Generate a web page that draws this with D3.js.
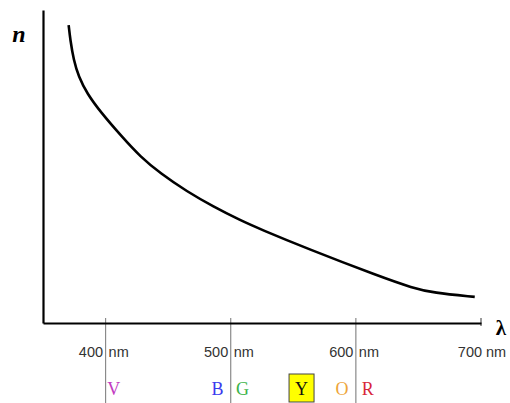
<!DOCTYPE html>
<html>
<head>
<meta charset="utf-8">
<script src="https://cdn.jsdelivr.net/npm/d3@7"></script>
<style>
  body { margin: 0; background: #fff; }
</style>
</head>
<body>
<div id="wrapper"></div>
<script>
// dispersion curve: wavelength (nm) vs refractive index (arbitrary scale)
const wavelengths = [370.5, 371.8, 374.5, 378.5, 385.2, 395.8, 413.1, 427.7, 443.7, 465, 486.2, 507.5, 523.5, 560.7, 619.2, 645.6, 661.5, 695]
const indices = [1.5571, 1.5543, 1.5504, 1.5472, 1.5440, 1.5405, 1.5357, 1.5319, 1.5287, 1.5252, 1.5223, 1.5197, 1.5180, 1.5143, 1.5089, 1.5067, 1.5058, 1.5050]

const tickValues = [400, 500, 600, 700]
const colourLetters = ['V', 'B', 'G', 'Y', 'O', 'R']
const colourPositions = [406.5, 489.5, 509.5, 556.6, 588.9, 609.6]
const colourFills = ['#c23bc2', '#3a3aee', '#3cb34a', '#111111', '#eea53a', '#d8263a']

const dataset = wavelengths.map((w, i) => ({ w, n: indices[i] }))

const dimensions = {
  width: 510,
  height: 403,
  margin: { top: 10, right: 29, bottom: 80, left: 43 },
}
dimensions.boundedWidth = dimensions.width - dimensions.margin.left - dimensions.margin.right
dimensions.boundedHeight = dimensions.height - dimensions.margin.top - dimensions.margin.bottom

const svg = d3.select('#wrapper')
  .append('svg')
  .attr('width', dimensions.width)
  .attr('height', dimensions.height)

const bounds = svg.append('g')
  .attr('transform', `translate(${dimensions.margin.left},${dimensions.margin.top})`)

const xScale = d3.scaleLinear()
  .domain([350, 700])
  .range([0, 438])

const yScale = d3.scaleLinear()
  .domain([1.50, 1.56])
  .range([313, 0])

const h = 313

// gray wavelength guide lines (400-600)
bounds.selectAll('.guide')
  .data(tickValues.slice(0, 3))
  .enter().append('line')
  .attr('x1', d => xScale(d))
  .attr('x2', d => xScale(d))
  .attr('y1', h - 5)
  .attr('y2', dimensions.height)
  .attr('stroke', '#8a8a8a')
  .attr('stroke-width', 1.2)

// 700 tick
bounds.append('line')
  .attr('x1', xScale(700))
  .attr('x2', xScale(700))
  .attr('y1', h - 5)
  .attr('y2', h + 3)
  .attr('stroke', '#555')
  .attr('stroke-width', 1.2)

// axes as plain domain paths
const xAxis = bounds.append('g')
  .attr('transform', `translate(0,${h})`)
  .call(d3.axisBottom(xScale).tickValues([]).tickSizeOuter(0))
xAxis.select('.domain').attr('stroke', '#000').attr('stroke-width', 2.2)

const yAxis = bounds.append('g')
  .call(d3.axisLeft(yScale).tickValues([]).tickSizeOuter(0))
yAxis.select('.domain').attr('stroke', '#000').attr('stroke-width', 2.2)

// tick labels
const labels = bounds.append('g')
  .attr('font-family', 'Liberation Sans, Arial, sans-serif')
  .attr('font-size', 14.5)
  .attr('fill', '#333')

tickValues.slice(0, 3).forEach(v => {
  labels.append('text')
    .attr('x', xScale(v) - 2.5)
    .attr('y', 347)
    .attr('text-anchor', 'end')
    .text(v)
  labels.append('text')
    .attr('x', xScale(v) + 3)
    .attr('y', 347)
    .text('nm')
})
labels.append('text')
  .attr('x', xScale(700) + 1)
  .attr('y', 347)
  .attr('text-anchor', 'middle')
  .text('700 nm')

// curve
const lineGenerator = d3.line()
  .x(d => xScale(d.w))
  .y(d => yScale(d.n))
  .curve(d3.curveBasis)

bounds.append('path')
  .datum(dataset)
  .attr('d', lineGenerator)
  .attr('fill', 'none')
  .attr('stroke', '#000')
  .attr('stroke-width', 2.6)

// colour letters
const yIdx = colourLetters.indexOf('Y')
bounds.append('rect')
  .attr('x', xScale(colourPositions[yIdx]) - 12.5)
  .attr('y', 364)
  .attr('width', 25)
  .attr('height', 28)
  .attr('fill', '#ffff00')
  .attr('stroke', '#444')
  .attr('stroke-width', 1)

bounds.selectAll('.letter')
  .data(colourLetters)
  .enter().append('text')
  .attr('x', (d, i) => xScale(colourPositions[i]))
  .attr('y', 385)
  .attr('text-anchor', 'middle')
  .attr('font-family', 'Liberation Serif, Times New Roman, serif')
  .attr('font-size', 18)
  .attr('fill', (d, i) => colourFills[i])
  .text(d => d)

// axis titles
svg.append('text')
  .attr('x', 19)
  .attr('y', 42)
  .attr('text-anchor', 'middle')
  .attr('font-family', 'Liberation Serif, Times New Roman, serif')
  .attr('font-style', 'italic')
  .attr('font-weight', 'bold')
  .attr('font-size', 24)
  .text('n')

svg.append('text')
  .attr('x', 501)
  .attr('y', 335)
  .attr('text-anchor', 'middle')
  .attr('font-family', 'Liberation Serif, Times New Roman, serif')
  .attr('font-weight', 'bold')
  .attr('font-size', 21)
  .text('λ')
</script>
</body>
</html>
